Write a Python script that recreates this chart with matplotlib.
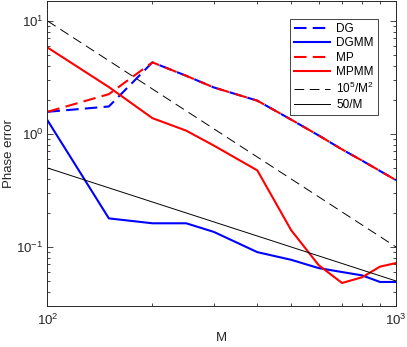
import matplotlib
matplotlib.use("Agg")
import matplotlib.pyplot as plt
from matplotlib.ticker import LogLocator, NullFormatter

plt.rcParams['font.family'] = ['Liberation Sans', 'DejaVu Sans']
plt.rcParams['mathtext.fontset'] = 'custom'
plt.rcParams['mathtext.rm'] = 'Liberation Sans'
plt.rcParams['mathtext.it'] = 'Liberation Sans'
plt.rcParams['lines.scale_dashes'] = False

# Data
M = [100, 150, 200, 250, 300, 400, 500, 600, 700, 800, 900, 1000]
DG = [1.57, 1.75, 4.3, 3.27, 2.58, 1.97, 1.34, 0.97, 0.73, 0.58, 0.47, 0.39]
DGMM = [1.32, 0.179, 0.162, 0.162, 0.136, 0.09, 0.077, 0.065, 0.060, 0.056, 0.049, 0.049]
MP = [1.57, 2.25, 4.3, 3.27, 2.58, 1.97, 1.34, 0.97, 0.73, 0.58, 0.47, 0.39]
MPMM = [5.82, 2.6, 1.38, 1.07, 0.79, 0.476, 0.141, 0.069, 0.048, 0.054, 0.067, 0.072]
ref_M = [100, 1000]
ref_quad = [10.0, 0.1]   # 10^5/M^2
ref_lin = [0.5, 0.05]    # 50/M

labels = ['DG', 'DGMM', 'MP', 'MPMM', r'10$^5$/M$^2$', '50/M']

fig = plt.figure(figsize=(4.07, 3.47), dpi=100)
ax = fig.add_axes([0.1167, 0.118, 0.973 - 0.1167, 0.997 - 0.118])

dash_col = (0, (9, 4.5))
ax.plot(M, DG, color='#0000ff', lw=1.5, linestyle=dash_col, label=labels[0])
ax.plot(M, DGMM, color='#0000ff', lw=1.5, label=labels[1])
ax.plot(M, MP, color='#ff0000', lw=1.5, linestyle=dash_col, label=labels[2])
ax.plot(M, MPMM, color='#ff0000', lw=1.5, label=labels[3])
ax.plot(ref_M, ref_quad, color='black', lw=0.7, linestyle=(0, (7, 4)), label=labels[4])
ax.plot(ref_M, ref_lin, color='black', lw=0.7, label=labels[5])

ax.set_xscale('log')
ax.set_yscale('log')
ax.set_xlim(100, 1000)
ax.set_ylim(0.03, 15)

ax.yaxis.set_major_locator(LogLocator(base=10, numticks=10))
ax.yaxis.set_minor_locator(LogLocator(base=10, subs=range(2, 10), numticks=20))
ax.yaxis.set_minor_formatter(NullFormatter())
ax.xaxis.set_minor_formatter(NullFormatter())

grey = '#262626'
for s in ax.spines.values():
    s.set_color(grey)
    s.set_linewidth(0.7)
ax.tick_params(which='both', direction='in', top=True, right=True, color=grey,
               labelcolor=grey, labelsize=9.5, width=0.6)
ax.tick_params(which='major', length=4)
ax.tick_params(which='minor', length=2.5)
ax.tick_params(axis='x', pad=5)
ax.tick_params(axis='y', pad=3)

ax.set_xlabel('M', fontsize=9.5, color=grey, labelpad=3)
ax.set_ylabel('Phase error', fontsize=9.5, color=grey, labelpad=1)

leg = ax.legend(loc='upper right', fontsize=8.5, handlelength=3.1, labelspacing=0.22,
                handletextpad=0.5, borderpad=0.35, fancybox=False, framealpha=1,
                bbox_to_anchor=(0.965, 0.962))
leg.get_frame().set_edgecolor(grey)
leg.get_frame().set_linewidth(0.6)

fig.savefig('out.png', dpi=100)
